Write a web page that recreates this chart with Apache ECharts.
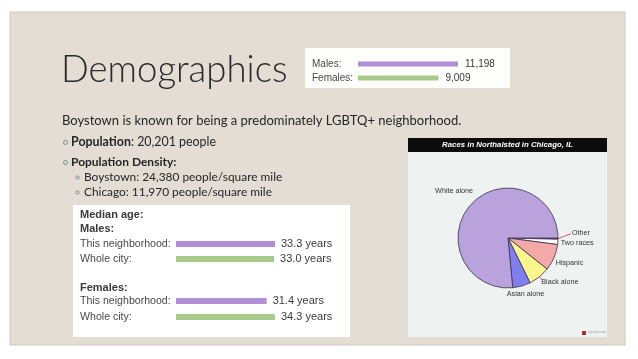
<!DOCTYPE html>
<html>
<head>
<meta charset="utf-8">
<script src="https://cdn.jsdelivr.net/npm/echarts@6/dist/echarts.min.js"></script>
<style>
html,body{margin:0;padding:0;background:#ffffff;}
#chart{width:638px;height:359px;}
</style>
</head>
<body>
<div id="chart"></div>
<script>
// ---- data ----
const popCategories = ['Males:', 'Females:'];
const popValues = [11198, 9009];
const ageCategories = ['This neighborhood:', 'Whole city:'];
const maleAges = [33.3, 33.0];
const femaleAges = [31.4, 34.3];
const raceNames = ['Other', 'Two races', 'Hispanic', 'Black alone', 'Asian alone', 'White alone'];
const raceShares = [0.4, 1.7, 8.6, 7.0, 5.8, 76.5];
const raceColors = ['#e25a5a', '#ffffff', '#f3a9a8', '#f8f68c', '#7f7ff0', '#baa3dc'];

const chart = echarts.init(document.getElementById('chart'), null, {renderer: 'canvas'});

const fmtNum = v => v.toLocaleString('en-US');
const purple = '#b08fd6';
const green = '#a8cb8c';
// fine label nudges for the pie (dx, dy)
const pieLabelNudge = [[0, -6], [-1, 1], [-2, 4], [-2, 3], [-16, 4], [5, -11]];

function barAxisY(gi, cats, margin, fs) {
  return {
    type: 'category', gridIndex: gi, data: cats, inverse: true,
    axisLine: {show: false}, axisTick: {show: false}, splitLine: {show: false},
    axisLabel: {align: 'left', margin: margin, fontFamily: 'Liberation Sans', fontSize: fs, color: '#4a4a4a'}
  };
}
function barAxisX(gi, max) {
  return {type: 'value', gridIndex: gi, min: 0, max: max, show: false, splitLine: {show: false}};
}
const bullet = (cx, cy, r) => ({type: 'circle', shape: {cx: cx, cy: cy, r: r}, style: {fill: 'none', stroke: '#7d8c8c', lineWidth: 1}});

function pieLabelLayout(p) {
  const n = pieLabelNudge[p.dataIndex];
  const out = {dx: n[0], dy: n[1], hideOverlap: false, moveOverlap: false};
  const pts = p.labelLinePoints;
  if (pts && (raceNames[p.dataIndex] === 'Other' || raceNames[p.dataIndex] === 'Black alone')) {
    const r = p.labelRect;
    const start = pts[0];
    const end = raceNames[p.dataIndex] === 'Other'
      ? [r.x + n[0] - 1, r.y + r.height / 2 + n[1] + 1]
      : [r.x + n[0] + 1, r.y + n[1] + 1];
    out.labelLinePoints = [start, [(start[0] + end[0]) / 2, (start[1] + end[1]) / 2], end];
  }
  return out;
}

const option = {
  animation: false,
  backgroundColor: '#ffffff',
  graphic: [
    {type: 'rect', shape: {x: 10, y: 12, width: 615, height: 333}, style: {fill: '#e3ddd3', stroke: '#cdc8bf', lineWidth: 1}, z: -10},
    {type: 'text', x: 61, y: 70, style: {text: 'Demographics', verticalAlign: 'middle', fontFamily: 'Lato', fontWeight: 300, fontSize: 36.6, fill: '#2a2a2a'}},
    {type: 'rect', shape: {x: 305, y: 48, width: 205, height: 40}, style: {fill: '#fdfdfc'}, z: -5},
    {type: 'text', x: 62, y: 121, style: {text: 'Boystown is known for being a predominately LGBTQ+ neighborhood.', verticalAlign: 'middle', fontFamily: 'Lato', fontSize: 13.0, fill: '#262626'}},
    bullet(65.5, 142.5, 2),
    {type: 'text', x: 71, y: 142, style: {text: '{h|Population}{t|: 20,201 people}', verticalAlign: 'middle', rich: {h: {fontFamily: 'Lato', fontWeight: 'bold', fontSize: 12.4, fill: '#262626'}, t: {fontFamily: 'Lato', fontSize: 12.4, fill: '#262626'}}}},
    bullet(65.5, 162.5, 2),
    {type: 'text', x: 71, y: 162, style: {text: 'Population Density:', verticalAlign: 'middle', fontFamily: 'Lato', fontWeight: 'bold', fontSize: 12, fill: '#262626'}},
    bullet(77.5, 177.5, 1.6),
    {type: 'text', x: 84, y: 177, style: {text: 'Boystown: 24,380 people/square mile', verticalAlign: 'middle', fontFamily: 'Lato', fontSize: 11.9, fill: '#262626'}},
    bullet(77.5, 192.5, 1.6),
    {type: 'text', x: 84, y: 192, style: {text: 'Chicago: 11,970 people/square mile', verticalAlign: 'middle', fontFamily: 'Lato', fontSize: 11.9, fill: '#262626'}},
    // median age box
    {type: 'rect', shape: {x: 73, y: 205, width: 277, height: 132}, style: {fill: '#ffffff'}, z: -5},
    {type: 'text', x: 80, y: 215, style: {text: 'Median age:', verticalAlign: 'middle', fontFamily: 'Liberation Sans', fontWeight: 'bold', fontSize: 11, fill: '#3a3a3a'}},
    {type: 'text', x: 80, y: 229, style: {text: 'Males:', verticalAlign: 'middle', fontFamily: 'Liberation Sans', fontWeight: 'bold', fontSize: 11, fill: '#3a3a3a'}},
    {type: 'text', x: 80, y: 288, style: {text: 'Females:', verticalAlign: 'middle', fontFamily: 'Liberation Sans', fontWeight: 'bold', fontSize: 11, fill: '#3a3a3a'}},
    // pie panel
    {type: 'rect', shape: {x: 408, y: 138, width: 199, height: 199}, style: {fill: '#eef3f1'}, z: -5},
    {type: 'rect', shape: {x: 408, y: 138, width: 199, height: 14}, style: {fill: '#0c0c0c'}, z: -4},
    {type: 'text', x: 507.5, y: 145, style: {text: 'Races in Northalsted in Chicago, IL', align: 'center', verticalAlign: 'middle', fontFamily: 'Liberation Sans', fontWeight: 'bold', fontStyle: 'italic', fontSize: 7.8, fill: '#ffffff'}},
    {type: 'rect', shape: {x: 582, y: 331, width: 4, height: 4}, style: {fill: '#b02a3a'}},
    {type: 'text', left: 588, top: 331, style: {text: 'city-data.com', fontFamily: 'Liberation Sans', fontSize: 3, fill: '#9aa0a0'}}
  ],
  grid: [
    {left: 358, top: 57, width: 100, height: 28},
    {left: 176, top: 236.5, width: 99, height: 30},
    {left: 176, top: 293, width: 99, height: 32}
  ],
  xAxis: [barAxisX(0, popValues[0]), barAxisX(1, Math.max(...maleAges)), barAxisX(2, Math.max(...femaleAges))],
  yAxis: [barAxisY(0, popCategories, 46, 10), barAxisY(1, ageCategories, 96, 10.6), barAxisY(2, ageCategories, 96, 10.6)],
  series: [
    {type: 'bar', xAxisIndex: 0, yAxisIndex: 0, barWidth: 5,
      data: popValues.map((v, i) => ({value: v, itemStyle: {color: i === 0 ? purple : green}})),
      label: {show: true, position: 'right', distance: 7, fontFamily: 'Liberation Sans', fontSize: 10, color: '#3a3a3a', formatter: p => fmtNum(p.value)}},
    {type: 'bar', xAxisIndex: 1, yAxisIndex: 1, barWidth: 6,
      data: maleAges.map((v, i) => ({value: v, itemStyle: {color: i === 0 ? purple : green}})),
      label: {show: true, position: 'right', distance: 6, fontFamily: 'Liberation Sans', fontSize: 11, color: '#3a3a3a', formatter: p => p.value.toFixed(1) + ' years'}},
    {type: 'bar', xAxisIndex: 2, yAxisIndex: 2, barWidth: 6,
      data: femaleAges.map((v, i) => ({value: v, itemStyle: {color: i === 0 ? purple : green}})),
      label: {show: true, position: 'right', distance: 6, fontFamily: 'Liberation Sans', fontSize: 11, color: '#3a3a3a', formatter: p => p.value.toFixed(1) + ' years'}},
    {type: 'pie', center: [508, 238], radius: 50, startAngle: 0, clockwise: true, minAngle: 0,
      avoidLabelOverlap: false,
      itemStyle: {borderColor: '#3a3050', borderWidth: 0.8},
      label: {show: true, position: 'outside', distanceToLabelLine: 0, fontFamily: 'Liberation Sans', fontSize: 7.2, color: '#333333'},
      labelLine: {show: false, length: 4, length2: 0, lineStyle: {color: '#e05555', width: 1}},
      labelLayout: pieLabelLayout,
      data: raceNames.map((n, i) => {
        const d = {name: n, value: raceShares[i], itemStyle: {color: raceColors[i]}};
        if (n === 'Other') d.labelLine = {show: true, length: 8, length2: 6};
        if (n === 'Black alone') d.labelLine = {show: true, length: 3, length2: 2};
        return d;
      })
    }
  ]
};
chart.setOption(option);
</script>
</body>
</html>
